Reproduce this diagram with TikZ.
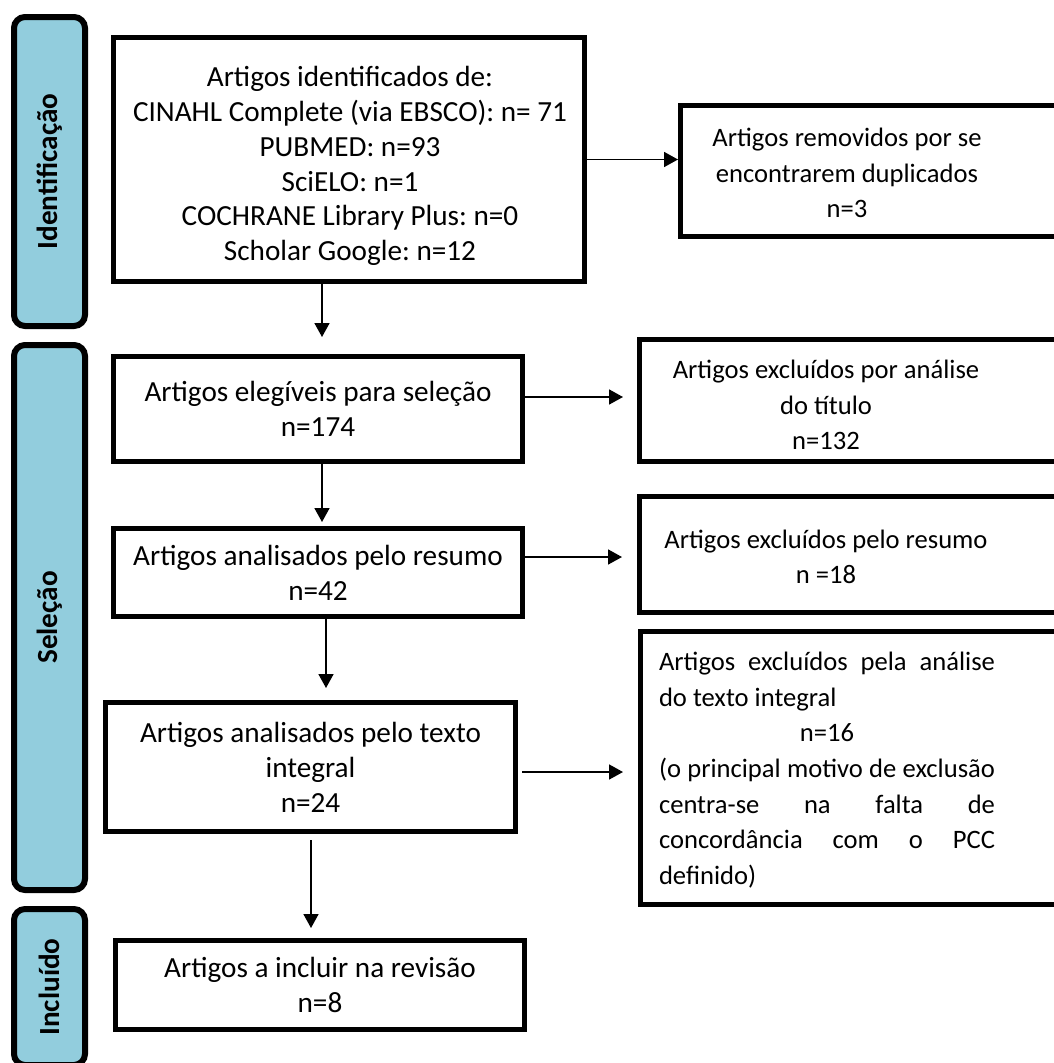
\documentclass[tikz,border=0pt]{standalone}
\usepackage{fontspec}
\setmainfont{Carlito}
\frenchspacing
\usetikzlibrary{arrows.meta}
\definecolor{barblue}{RGB}{146,205,221}
\begin{document}
\begin{tikzpicture}[x=1pt,y=-1pt,
  bx/.style={draw=black, line width=4.7pt, fill=white, inner sep=0pt},
  lbox/.style={bx, align=center, font=\fontsize{29.2}{35}\selectfont},
  ltext/.style={align=center, font=\fontsize{29.2}{34.8}\selectfont, inner sep=0pt},
  rtext/.style={align=center, font=\fontsize{26.6}{35.6}\selectfont, inner sep=0pt},
  bar/.style={draw=black, line width=6pt, fill=barblue, rounded corners=11pt, inner sep=0pt, minimum width=71pt},
  barlabel/.style={rotate=90, font=\fontsize{29.2}{35}\selectfont\bfseries, inner sep=0pt},
  arr/.style={line width=1.7pt, -{Triangle[length=14pt,width=15pt]}}
]
\useasboundingbox (0,0) rectangle (1054,1063);
\fill[white] (0,0) rectangle (1054,1063);
\clip (0,0) rectangle (1054,1063);

% side bars
\node[bar, minimum height=309pt] (bar1) at (49.5,171.5) {};
\node[bar, minimum height=545pt] (bar2) at (49.5,617.5) {};
\node[bar, minimum height=156pt] (bar3) at (49.5,987) {};
\node[barlabel] (l1) at (bar1.center) {Identificação};
\node[barlabel] (l2) at (bar2.center) {Seleção};
\node[barlabel] (l3) at (bar3.center) {Incluído};

% left boxes
\node[bx, minimum width=471.3pt, minimum height=244.3pt] (b1) at (349,159.5) {};
\node[ltext] (tb1) at (350,166)
  {Artigos identificados de:\\CINAHL Complete (via EBSCO): n= 71\\PUBMED: n=93\\SciELO: n=1\\COCHRANE Library Plus: n=0\\Scholar Google: n=12};
\node[lbox, minimum width=409.3pt, minimum height=105.3pt] (b2) at (318,409)
  {Artigos elegíveis para seleção\\n=174};
\node[lbox, minimum width=409.3pt, minimum height=88.3pt] (b3) at (318,572.5)
  {Artigos analisados pelo resumo\\n=42};
\node[lbox, minimum width=410.3pt, minimum height=129.3pt] (b4) at (310.5,767)
  {Artigos analisados pelo texto\\integral\\n=24};
\node[lbox, minimum width=409.3pt, minimum height=89.3pt] (b5) at (320,985)
  {Artigos a incluir na revisão\\n=8};

% right boxes
\node[bx, minimum width=392.3pt, minimum height=131.3pt] (r1) at (876.5,171) {};
\node[bx, minimum width=433.3pt, minimum height=122.3pt] (r2) at (856,400.5) {};
\node[bx, minimum width=433.3pt, minimum height=116.3pt] (r3) at (856,554.5) {};
\node[bx, minimum width=432.3pt, minimum height=273.3pt] (r4) at (856.5,768) {};

\node[rtext] (t1) at (847,173) {Artigos removidos por se\\encontrarem duplicados\\n=3};
\node[rtext] (t2) at (826,405) {Artigos excluídos por análise\\do título\\n=132};
\node[rtext] (t3) at (826,557) {Artigos excluídos pelo resumo\\n =18};
\node[rtext, align=left] (t4) at (827,770) {%
\makebox[336pt][s]{Artigos excluídos pela análise}\\
do texto integral\\
\makebox[336pt][c]{n=16}\\
\makebox[336pt][s]{(o principal motivo de exclusão}\\
\makebox[336pt][s]{centra-se na falta de}\\
\makebox[336pt][s]{concordância com o PCC}\\
definido)};

% connector guides
\coordinate (c1) at (322,0);
\coordinate (c3) at (326,0);
\coordinate (c4) at (311,0);
\coordinate (d2) at (0,397);
\coordinate (d3) at (0,557);
\coordinate (d4) at (0,772);

% connectors
\draw[arr, shorten >=17pt] (b1.south -| c1) -- (b2.north -| c1);
\draw[arr] (b1.east) -- (b1.east -| r1.west);
\draw[arr, shorten >=4pt] (b2.south -| c1) -- (b3.north -| c1);
\draw[arr, shorten >=14pt] (b2.east |- d2) -- (r2.west |- d2);
\draw[arr, shorten >=15pt] (b3.east |- d3) -- (r3.west |- d3);
\draw[arr, shorten >=12pt] (b3.south -| c3) -- (b4.north -| c3);
\draw[arr, shorten <=4pt, shorten >=15pt] (b4.east |- d4) -- (r4.west |- d4);
\draw[arr, shorten <=6pt, shorten >=10pt] (b4.south -| c4) -- (b5.north -| c4);
\end{tikzpicture}
\end{document}
